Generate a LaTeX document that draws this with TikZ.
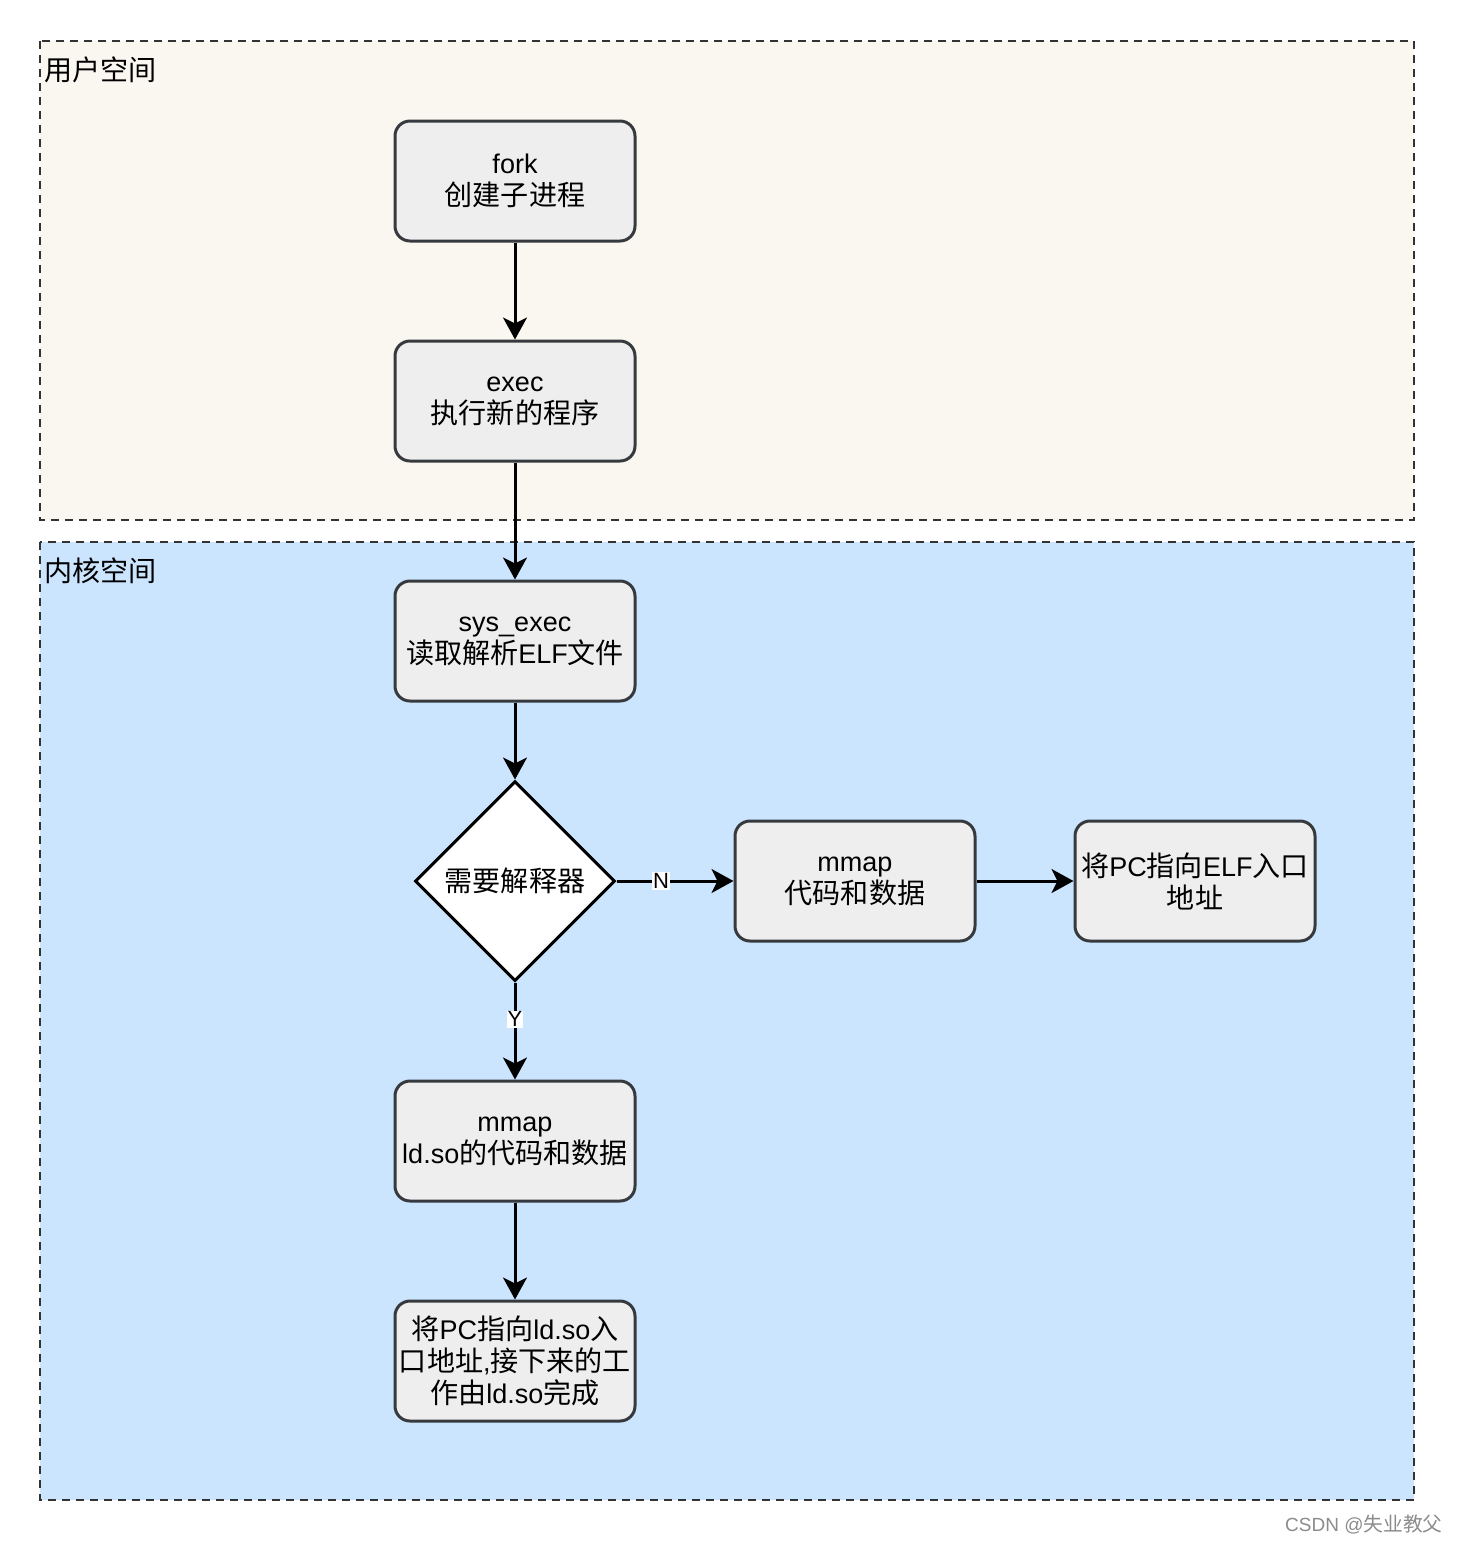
\documentclass[tikz,border=0pt]{standalone}
\usepackage{fontspec}
\setmainfont{Liberation Sans}
\newfontfamily\cjk[Scale=1.04]{Noto Sans CJK SC}
\newcommand{\zh}[1]{{\cjk #1}}
\usetikzlibrary{arrows.meta,shapes.geometric}
\definecolor{userbg}{HTML}{F9F7EF}
\definecolor{kernbg}{HTML}{CCE5FF}
\definecolor{boxbg}{HTML}{EEEEEE}
\definecolor{boxline}{HTML}{36393D}
\definecolor{panelline}{HTML}{333333}
\begin{document}
\begin{tikzpicture}[x=0.5pt,y=-0.5pt,
  panel/.style={draw=panelline, line width=1pt, dash pattern=on 4pt off 3pt},
  panellabel/.style={anchor=west, inner sep=0pt, font=\fontsize{13.5}{16}\selectfont},
  stepbox/.style={draw=boxline, fill=boxbg, line width=1.5pt, rounded corners=7.5pt,
    minimum width=120pt, minimum height=60pt, inner sep=0pt, align=center,
    font=\fontsize{13.5}{16}\selectfont},
  decision/.style={diamond, draw=black, fill=white, line width=1.5pt,
    minimum width=100pt, minimum height=100pt, inner sep=0pt, aspect=1,
    font=\fontsize{13.5}{16}\selectfont},
  flow/.style={line width=1.5pt, -{Stealth[length=11pt,width=12pt,inset=3pt]}},
  edgelabel/.style={fill=white, inner sep=0.5pt, font=\fontsize{11}{13}\selectfont}
]
\useasboundingbox (0,0) rectangle (1458,1544);
\fill[white] (0,0) rectangle (1458,1544);

% panels
\draw[panel, fill=userbg] (40,41) rectangle (1414,520);
\draw[panel, fill=kernbg] (40,542) rectangle (1414,1500);
\node[panellabel] (userlbl) at (44,70) {\zh{用户空间}};
\node[panellabel] (kernlbl) at (44,571) {\zh{内核空间}};

% nodes
\node[stepbox] (fork) at (515,181) {fork\\\zh{创建子进程}};
\node[stepbox] (exec) at (515,401) {exec\\\zh{执行新的程序}};
\node[stepbox] (sysexec) at (515,641) {sys\_exec\\\zh{读取解析}ELF\zh{文件}};
\node[decision] (interp) at (515,881) {\zh{需要解释器}};
\node[stepbox] (mmap) at (855,881) {mmap\\\zh{代码和数据}};
\node[stepbox] (pcelf) at (1195,881) {\zh{将}PC\zh{指向}ELF\zh{入口}\\\zh{地址}};
\node[stepbox] (mmapld) at (515,1141) {mmap\\ld.so\zh{的代码和数据}};
\node[stepbox] (pcld) at (515,1361) {\zh{将}PC\zh{指向}ld.so\zh{入}\\\zh{口地址},\zh{接下来的工}\\\zh{作由}ld.so\zh{完成}};

% connectors
\draw[flow] (fork) -- (exec);
\draw[flow] (exec) -- (sysexec);
\draw[flow] (sysexec) -- (interp);
\draw[flow] (interp) -- node[edgelabel, pos=0.38] (nlbl) {N} (mmap);
\draw[flow] (mmap) -- (pcelf);
\draw[flow] (interp) -- node[edgelabel, pos=0.38] (ylbl) {Y} (mmapld);
\draw[flow] (mmapld) -- (pcld);

% watermark
\node[anchor=east, inner sep=0pt, text=black!45, font=\fontsize{9.5}{11}\selectfont] (wm) at (1443,1524) {CSDN @\zh{失业教父}};
\end{tikzpicture}
\end{document}
